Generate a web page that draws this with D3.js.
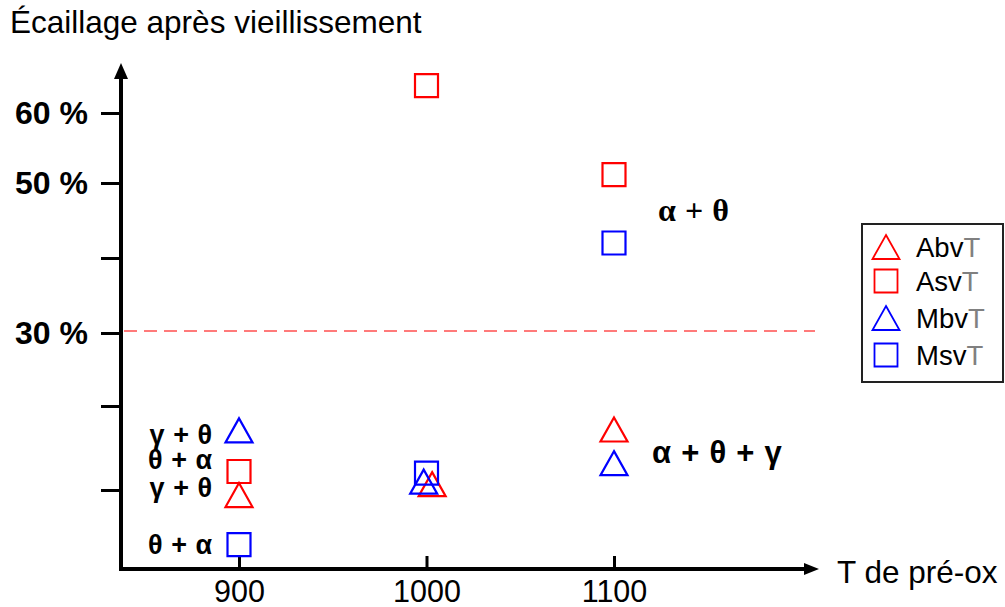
<!DOCTYPE html>
<html>
<head>
<meta charset="utf-8">
<script src="https://cdn.jsdelivr.net/npm/d3@7"></script>
<style>
  html, body { margin: 0; padding: 0; background: #fff; }
  svg { display: block; }
</style>
</head>
<body>
<script>
// Pre-oxidation temperatures (°C) and spalling ratios (%) after ageing
const temps = [900, 1000, 1100];
const yTicks = [10, 20, 30, 40, 50, 60];
const yTickLabels = ["", "", "30 %", "", "50 %", "60 %"];
const seriesNames = ["AbvT", "AsvT", "MbvT", "MsvT"];
const seriesShapes = ["triangle", "square", "triangle", "square"];
const seriesColors = ["#ff0000", "#ff0000", "#0000ff", "#0000ff"];

const abvtT = [900, 1003, 1100];
const abvtV = [9.4, 10.7, 17.2];
const asvtT = [900, 1000, 1100];
const asvtV = [12.2, 63.9, 51.2];
const mbvtT = [900, 998.5, 1100];
const mbvtV = [17.1, 11.0, 13.2];
const msvtT = [900, 1000, 1100];
const msvtV = [3.5, 12.0, 42.0];

// Phase annotations (temperature, spalling %)
const phaseText = ["γ + θ", "θ + α", "γ + θ", "θ + α", "α + θ", "α + θ + γ"];
const phaseT = [885.6, 885.6, 885.6, 885.6, 1123.5, 1120.3];
const phaseV = [16.6, 13.6, 10.3, 3.5, 46.5, 14.5];
const threshold = 30;

const W = 1005, H = 607;
const svg = d3.select("body").append("svg").attr("width", W).attr("height", H);

const x = d3.scaleLinear().domain([900, 1100]).range([239, 614]);
// hand-drawn axis: graduations are not evenly spaced
const y = d3.scaleLinear().domain(yTicks).range([490, 406, 333, 258, 183, 113]);

const axisX0 = 121, axisY0 = 569;
const sans = "'Liberation Sans', Arial, sans-serif";

// Title
svg.append("text").attr("x", 10).attr("y", 33)
  .attr("font-family", sans).attr("font-size", 31.5)
  .text("Écaillage après vieillissement");

// 30 % threshold
svg.append("line")
  .attr("x1", axisX0 + 3).attr("x2", 815)
  .attr("y1", y(threshold) - 2).attr("y2", y(threshold) - 2)
  .attr("stroke", "#ff7a7a").attr("stroke-width", 2)
  .attr("stroke-dasharray", "13 7");

// Y axis
const yAxis = svg.append("g").attr("transform", `translate(${axisX0},0)`)
  .call(d3.axisLeft(y).tickValues(yTicks).tickSize(20).tickPadding(13)
    .tickFormat((d, i) => yTickLabels[i]));
yAxis.select(".domain").remove();
yAxis.selectAll(".tick line").attr("stroke", "#000").attr("stroke-width", 3);
yAxis.selectAll(".tick text").attr("font-family", sans).attr("font-size", 32)
  .attr("font-weight", "bold").attr("fill", "#000");

// X axis
const xAxis = svg.append("g").attr("transform", `translate(0,${axisY0})`)
  .call(d3.axisBottom(x).tickValues(temps).tickSize(-13).tickPadding(11)
    .tickFormat(d3.format("d")));
xAxis.select(".domain").remove();
xAxis.selectAll(".tick line").attr("stroke", "#000").attr("stroke-width", 3);
xAxis.selectAll(".tick text").attr("font-family", sans).attr("font-size", 30.5)
  .attr("fill", "#000");

// Axis lines with arrows
svg.append("line").attr("x1", axisX0).attr("x2", axisX0)
  .attr("y1", axisY0 + 2).attr("y2", 76)
  .attr("stroke", "#000").attr("stroke-width", 4);
svg.append("path")
  .attr("d", `M${axisX0},63 L${axisX0 - 7},79 L${axisX0 + 7},79 Z`).attr("fill", "#000");
svg.append("line").attr("x1", axisX0 - 2).attr("x2", 806)
  .attr("y1", axisY0).attr("y2", axisY0)
  .attr("stroke", "#000").attr("stroke-width", 4);
svg.append("path")
  .attr("d", `M819,${axisY0} L804,${axisY0 - 6} L804,${axisY0 + 6} Z`).attr("fill", "#000");

svg.append("text").attr("x", 837).attr("y", 583)
  .attr("font-family", sans).attr("font-size", 31.5)
  .text("T de pré-ox");

// Markers
function shapePath(shape, cx, cy) {
  if (shape === "square") {
    const s = 23;
    return `M${cx - s / 2},${cy - s / 2}h${s}v${s}h${-s}Z`;
  }
  const w = 27, h = 24;
  return `M${cx},${cy - h / 2}L${cx + w / 2},${cy + h / 2}L${cx - w / 2},${cy + h / 2}Z`;
}

const seriesData = [
  { t: abvtT, v: abvtV },
  { t: asvtT, v: asvtV },
  { t: mbvtT, v: mbvtV },
  { t: msvtT, v: msvtV }
];

seriesData.forEach((s, k) => {
  const pts = s.t.map((t, i) => ({ t, v: s.v[i] }));
  svg.append("g").selectAll("path").data(pts).join("path")
    .attr("d", d => shapePath(seriesShapes[k], x(d.t), y(d.v)))
    .attr("fill", "none").attr("stroke", seriesColors[k]).attr("stroke-width", 2.2);
});

// Phase annotations
const phases = phaseText.map((t, i) => ({ t, temp: phaseT[i], v: phaseV[i], idx: i }));
svg.append("g").selectAll("text").data(phases).join("text")
  .attr("x", d => x(d.temp)).attr("y", d => y(d.v)).attr("dy", "0.36em")
  .attr("text-anchor", d => d.temp < 900 ? "end" : "start")
  .attr("font-family", d => d.idx === 4 ? "'Liberation Serif', 'Times New Roman', serif" : sans)
  .attr("font-weight", "bold")
  .attr("font-size", d => d.idx === 4 ? 32 : d.idx === 5 ? 31 : 27)
  .attr("word-spacing", d => d.idx === 5 ? 1.5 : 1)
  .text(d => d.t);

// Legend
const lg = svg.append("g");
lg.append("rect").attr("x", 862).attr("y", 224).attr("width", 141).attr("height", 158)
  .attr("fill", "#fff").attr("stroke", "#222").attr("stroke-width", 2);
const legendY = [247, 281, 318, 355];
seriesNames.forEach((name, k) => {
  const cy = legendY[k];
  lg.append("path").attr("d", shapePath(seriesShapes[k], 886, cy))
    .attr("fill", "none").attr("stroke", seriesColors[k]).attr("stroke-width", 1.8);
  const t = lg.append("text").attr("x", 916).attr("y", cy + 10)
    .attr("font-family", sans).attr("font-size", 27.5);
  t.append("tspan").attr("fill", "#000").text(name.slice(0, -1));
  t.append("tspan").attr("fill", "#808080").text(name.slice(-1));
});
</script>
</body>
</html>
